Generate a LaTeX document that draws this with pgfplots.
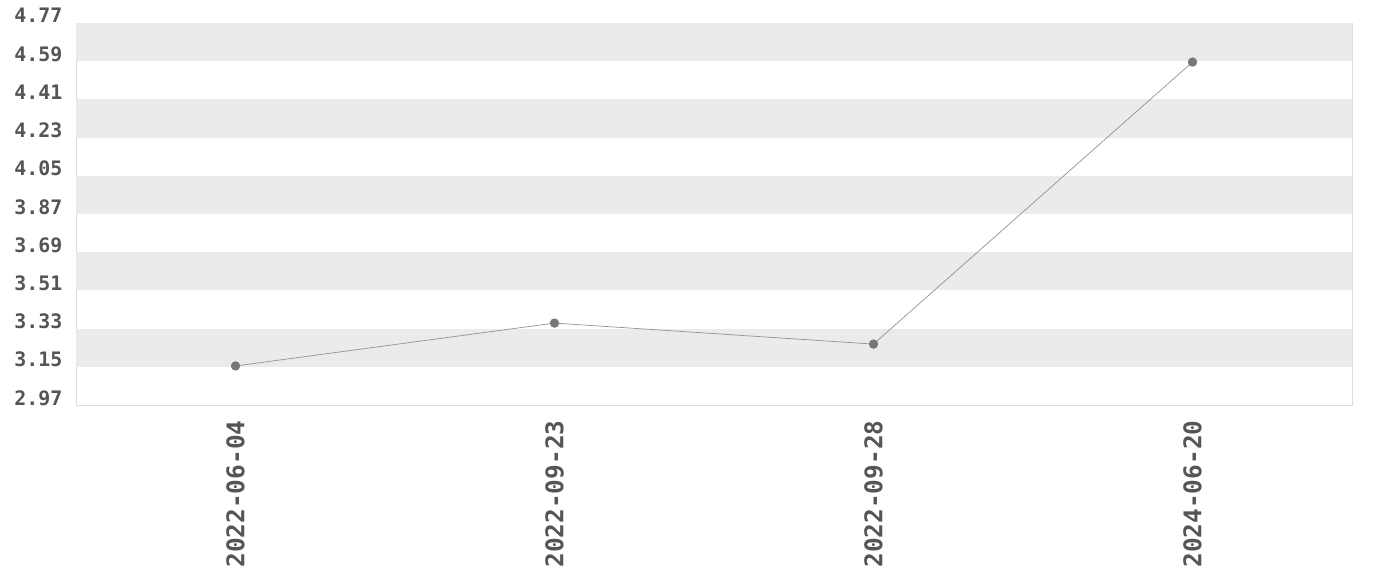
\documentclass[border=0pt]{standalone}
\usepackage{fontspec}
\setmainfont{DejaVu Sans Mono}
\usepackage{pgfplots}
\pgfplotsset{compat=1.18}
\usetikzlibrary{calc}
\definecolor{band}{HTML}{EBEBEB}
\definecolor{frame}{HTML}{DDDDDD}
\definecolor{txt}{HTML}{555555}
\definecolor{pt}{HTML}{777777}
\begin{document}
\begin{tikzpicture}
\begin{axis}[
    scale only axis,
    width=1276bp, height=382bp,
    xmin=-0.5, xmax=3.5,
    ymin=2.97, ymax=4.77,
    xtick={0,1,2,3},
    xticklabels={2022-06-04,2022-09-23,2022-09-28,2024-06-20},
    ytick={2.97,3.15,3.33,3.51,3.69,3.87,4.05,4.23,4.41,4.59,4.77},
    yticklabels={2.97,3.15,3.33,3.51,3.69,3.87,4.05,4.23,4.41,4.59,4.77},
    major tick length=0pt,
    axis line style={frame, line width=0.8bp},
    x tick label style={rotate=90, anchor=east, font=\fontsize{24.5}{24.5}\selectfont\bfseries, text=txt, xshift=-12bp},
    y tick label style={anchor=base east, font=\fontsize{20}{20}\selectfont\bfseries, text=txt, xshift=-10bp},
    clip=false,
]
    % alternating bands
    \fill[band] (axis cs:-0.5,4.59) rectangle (axis cs:3.5,4.77);
    \fill[band] (axis cs:-0.5,4.23) rectangle (axis cs:3.5,4.41);
    \fill[band] (axis cs:-0.5,3.87) rectangle (axis cs:3.5,4.05);
    \fill[band] (axis cs:-0.5,3.51) rectangle (axis cs:3.5,3.69);
    \fill[band] (axis cs:-0.5,3.15) rectangle (axis cs:3.5,3.33);
    \addplot[color=pt!80, line width=0.7bp, mark=*, mark size=4.3bp,
        mark options={fill=pt, draw=pt}]
        coordinates {(0,3.154) (1,3.356) (2,3.257) (3,4.586)};
\end{axis}
\useasboundingbox ($(current axis.south west)+(-76bp,-175bp)$) rectangle ($(current axis.north east)+(28bp,23bp)$);
\end{tikzpicture}
\end{document}
